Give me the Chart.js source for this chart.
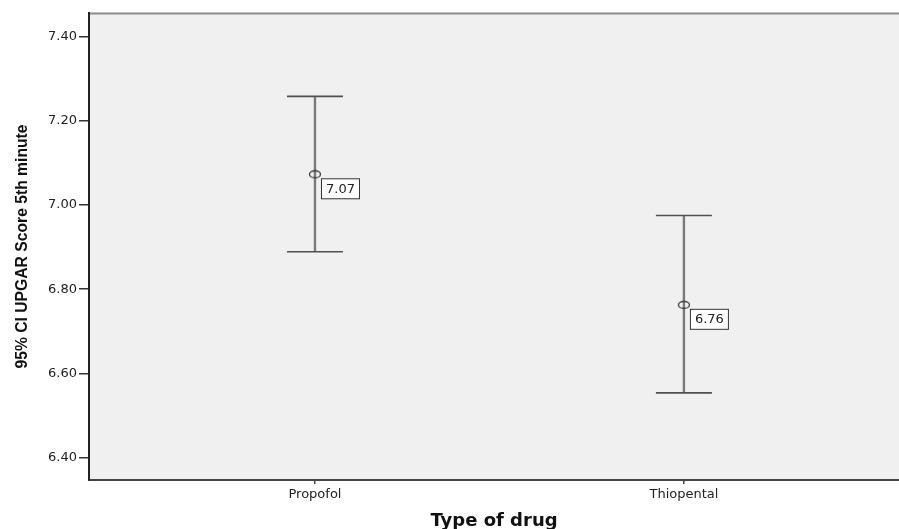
<!DOCTYPE html>
<html>
<head>
<meta charset="utf-8">
<script src="https://cdn.jsdelivr.net/npm/chart.js@4/dist/chart.umd.min.js"></script>
<style>
  html, body { margin: 0; padding: 0; background: #ffffff; }
  #wrap { width: 899px; height: 529px; }
</style>
</head>
<body>
<div id="wrap"><canvas id="c" width="899" height="529"></canvas></div>
<script>
// ---- data ----
const categories = ["Propofol", "Thiopental"];
const means = [7.073, 6.763];
const upperCI = [7.258, 6.975];
const lowerCI = [6.889, 6.554];
const yTicks = [6.40, 6.60, 6.80, 7.00, 7.20, 7.40];
const yTitle = "95% CI UPGAR Score 5th minute";
const xTitle = "Type of drug";

// ellipse marker as a point style image
const marker = document.createElement('canvas');
marker.width = 14; marker.height = 10;
(function () {
  const m = marker.getContext('2d');
  m.strokeStyle = '#3a3a3a';
  m.lineWidth = 1.3;
  m.beginPath();
  m.ellipse(7, 5, 5.5, 3.5, 0, 0, Math.PI * 2);
  m.stroke();
})();

const bgPlugin = {
  id: 'bg',
  beforeDraw(chart) {
    const { ctx, chartArea: a } = chart;
    ctx.save();
    ctx.fillStyle = '#f0f0f0';
    ctx.fillRect(a.left, a.top, a.right - a.left, a.bottom - a.top);
    ctx.strokeStyle = '#8a8a8a';
    ctx.lineWidth = 2;
    ctx.beginPath();
    ctx.moveTo(a.left, a.top + 0.5);
    ctx.lineTo(a.right, a.top + 0.5);
    ctx.stroke();
    ctx.restore();
  }
};

const errPlugin = {
  id: 'errbars',
  beforeDatasetsDraw(chart) {
    const { ctx, scales: { x, y } } = chart;
    ctx.save();
    categories.forEach((c, i) => {
      const px = x.getPixelForValue(i + 1);
      const yHi = y.getPixelForValue(upperCI[i]);
      const yLo = y.getPixelForValue(lowerCI[i]);
      ctx.strokeStyle = '#7a7a7a';
      ctx.lineWidth = 2.4;
      ctx.beginPath();
      ctx.moveTo(px, yHi);
      ctx.lineTo(px, yLo);
      ctx.stroke();
      ctx.strokeStyle = '#505050';
      ctx.lineWidth = 1.6;
      ctx.beginPath();
      ctx.moveTo(px - 28, yHi);
      ctx.lineTo(px + 28, yHi);
      ctx.moveTo(px - 28, yLo);
      ctx.lineTo(px + 28, yLo);
      ctx.stroke();
    });
    ctx.restore();
  },
  afterDatasetsDraw(chart) {
    const { ctx, scales: { x, y } } = chart;
    ctx.save();
    ctx.font = '13px "DejaVu Sans"';
    ctx.textAlign = 'center';
    ctx.textBaseline = 'middle';
    categories.forEach((c, i) => {
      const px = x.getPixelForValue(i + 1);
      const py = y.getPixelForValue(means[i]);
      const bx = px + 6, by = py + 4, bw = 38, bh = 20;
      ctx.fillStyle = '#ffffff';
      ctx.fillRect(bx, by, bw, bh);
      ctx.strokeStyle = '#333333';
      ctx.lineWidth = 1;
      ctx.strokeRect(bx + 0.5, by + 0.5, bw, bh);
      ctx.fillStyle = '#222222';
      ctx.fillText(means[i].toFixed(2), bx + bw / 2 + 0.5, by + bh / 2 + 1);
    });
    ctx.restore();
  }
};

new Chart(document.getElementById('c'), {
  type: 'scatter',
  data: {
    datasets: [{
      data: means.map((v, i) => ({ x: i + 1, y: v })),
      pointStyle: marker,
      pointRadius: 5,
      showLine: false
    }]
  },
  options: {
    responsive: false,
    animation: false,
    devicePixelRatio: 1,
    layout: { autoPadding: false, padding: { top: 13, right: 0, bottom: 0, left: 0 } },
    plugins: { legend: { display: false }, tooltip: { enabled: false } },
    scales: {
      x: {
        type: 'linear',
        min: 0.3875,
        max: 2.583,
        afterBuildTicks(s) { s.ticks = categories.map((c, i) => ({ value: i + 1 })); },
        afterFit(s) { s.height = 49; },
        ticks: {
          callback: (v) => categories[Math.round(v) - 1] || '',
          font: { family: '"DejaVu Sans"', size: 13 },
          color: '#222222',
          padding: 3,
          maxRotation: 0,
          autoSkip: false
        },
        grid: { drawOnChartArea: false, drawTicks: true, tickLength: 4, color: '#444444', lineWidth: 1.5 },
        border: { display: true, color: '#444444', width: 2 },
        title: {
          display: true,
          text: xTitle,
          font: { family: '"DejaVu Sans"', size: 18, weight: 'bold', lineHeight: 0.8 },
          color: '#111111',
          padding: { top: 0, bottom: 0 }
        }
      },
      y: {
        min: 6.347,
        max: 7.456,
        afterBuildTicks(s) { s.ticks = yTicks.map(v => ({ value: v })); },
        afterFit(s) { s.width = 89; },
        ticks: {
          callback: (v) => Number(v).toFixed(2),
          font: { family: '"DejaVu Sans"', size: 13 },
          color: '#222222',
          padding: 2
        },
        grid: { drawOnChartArea: false, drawTicks: true, tickLength: 10, color: '#333333', lineWidth: 1.5 },
        border: { display: true, color: '#222222', width: 2 },
        title: {
          display: true,
          text: yTitle,
          font: { family: '"Liberation Sans"', size: 15.7, weight: 'bold', lineHeight: 1.2 },
          color: '#111111',
          padding: { top: 13, bottom: 0 }
        }
      }
    }
  },
  plugins: [bgPlugin, errPlugin]
});
</script>
</body>
</html>
